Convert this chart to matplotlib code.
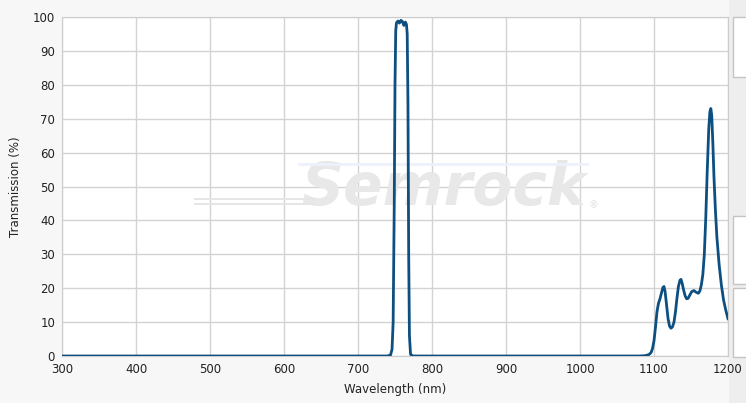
import numpy as np
import matplotlib.pyplot as plt
from matplotlib.patches import Rectangle

# transmission spectrum
wavelength = [300, 740, 744, 746, 747.5, 749, 750, 751, 752, 754, 756, 758, 760,
              762, 764, 765.5, 766.5, 767.5, 768.5, 769.5, 771, 774,
              1080, 1088, 1093, 1096, 1098, 1100, 1102, 1104, 1106, 1108, 1110,
              1112, 1113.5, 1115, 1117, 1119, 1121, 1123, 1125, 1127, 1129, 1131,
              1133, 1135, 1136.5, 1138, 1140, 1142, 1144, 1146, 1148, 1151, 1154,
              1157, 1160, 1162, 1164, 1166, 1168, 1170, 1172, 1174, 1175.5, 1176.8,
              1178, 1179.5, 1181, 1183, 1185, 1188, 1191, 1194, 1197, 1200]
transmission = [0, 0, 0.3, 2, 10, 45, 80, 96, 98.3, 98.8, 98.2, 99, 98.7,
                97.5, 98.5, 97.8, 95, 75, 30, 6, 0.5, 0,
                0, 0.1, 0.4, 1, 2.2, 4.5, 8.5, 13, 15.5, 16.8, 18.5,
                20.2, 20.5, 19, 15, 11, 8.8, 8.2, 8.6, 10, 13, 17,
                20.5, 22.3, 22.6, 21.5, 19.5, 17.8, 16.9, 17, 17.8, 19, 19.3,
                18.8, 18.5, 19.2, 21, 24, 30, 41, 55, 67, 72, 73,
                71, 63, 53, 43, 35, 27, 21, 16.5, 13.5, 11]

xticks = list(range(300, 1201, 100))
yticks = list(range(0, 101, 10))

fig = plt.figure(figsize=(7.46, 4.03), dpi=100, facecolor='#f7f7f7')
ax = fig.add_axes([62 / 746, 47 / 403, 666 / 746, 339 / 403])
ax.set_facecolor('white')

# right side panel with empty boxes (behind the axes and its labels)
fig.patches.append(Rectangle((729 / 746, 0), 17 / 746, 1, transform=fig.transFigure,
                             facecolor='#eeeeee', edgecolor='none', zorder=-2))
for y0, y1 in [(17, 77), (216, 284), (288, 357)]:
    fig.patches.append(Rectangle((733 / 746, 1 - y1 / 403), 20 / 746, (y1 - y0) / 403,
                                 transform=fig.transFigure, facecolor='white',
                                 edgecolor='#c4c4c4', linewidth=1, zorder=-1))

# watermark
ax.text(815, 49.5, 'Semrock', fontsize=42, fontweight='bold', fontstyle='italic',
        color='#e8e8e8', ha='center', va='center', zorder=1)
ax.text(1012, 44.5, '®', fontsize=7, color='#e0e0e0', ha='left', va='center', zorder=1)
for yy in [46.2, 44.8]:
    ax.plot([480, 640], [yy, yy], color='#e6e6e6', linewidth=1.4, zorder=1)
ax.plot([620, 1010], [56.5, 56.5], color='#eef0fb', linewidth=2, zorder=1)

ax.plot(wavelength, transmission, color='#0d4f80', linewidth=2, zorder=3,
        solid_joinstyle='round')

ax.set_xlim(300, 1200)
ax.set_ylim(0, 100)
ax.set_xticks(xticks)
ax.set_yticks(yticks)
ax.grid(True, color='#d3d3d3', linewidth=1)
ax.set_axisbelow(True)
ax.tick_params(length=0, labelsize=8.5, labelcolor='#222222', pad=5)
for s in ax.spines.values():
    s.set_color('#cccccc')

ax.set_xlabel('Wavelength (nm)', fontsize=8.5, color='#222222', labelpad=5)
ax.set_ylabel('Transmission (%)', fontsize=8.5, color='#222222', labelpad=8)

fig.savefig('out.png', dpi=100, facecolor=fig.get_facecolor())
